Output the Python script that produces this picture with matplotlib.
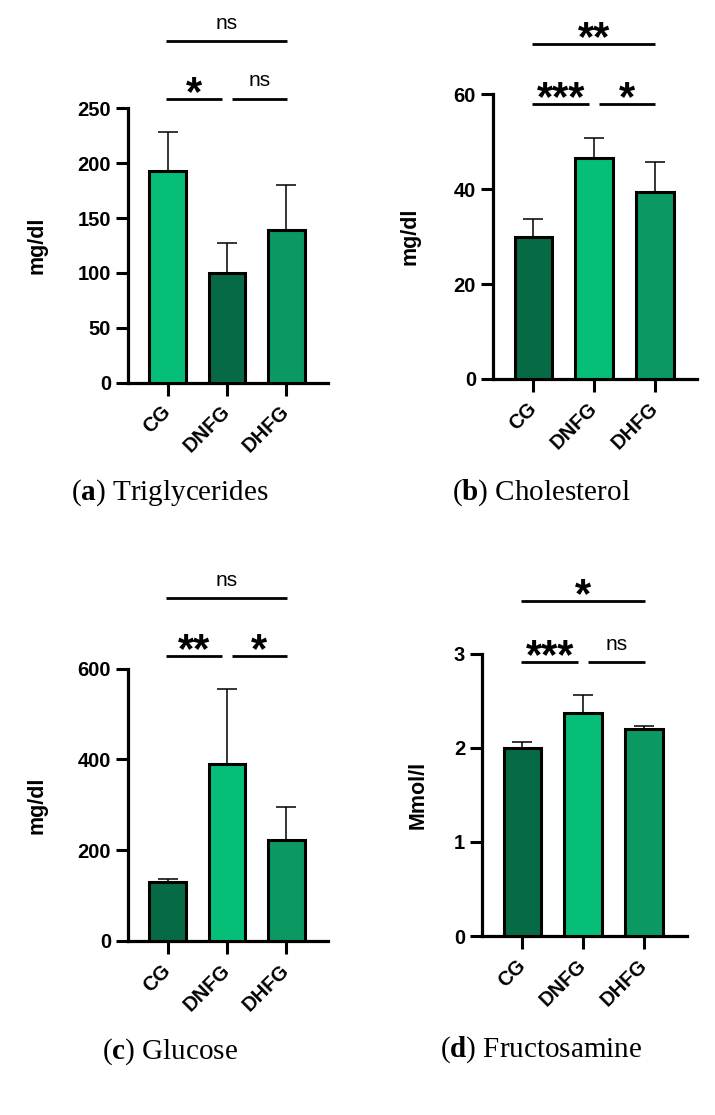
import matplotlib
matplotlib.use("Agg")
import matplotlib.pyplot as plt
import numpy as np

plt.rcParams['font.family'] = ['Liberation Sans', 'DejaVu Sans']
plt.rcParams['mathtext.fontset'] = 'custom'
plt.rcParams['mathtext.rm'] = 'Liberation Serif'
plt.rcParams['mathtext.bf'] = 'Liberation Serif:bold'

categories = ['CG', 'DNFG', 'DHFG']

tg_mean = [193, 100, 139]
tg_sd = [35, 27, 41]
chol_mean = [30.0, 46.6, 39.5]
chol_sd = [3.8, 4.2, 6.3]
glu_mean = [129, 390, 223]
glu_sd = [8, 165, 73]
fru_mean = [2.00, 2.37, 2.20]
fru_sd = [0.06, 0.19, 0.03]

y_labels = ['mg/dl', 'mg/dl', 'mg/dl', 'Mmol/l']
captions = ['a', 'b', 'c', 'd']
caption_names = ['Triglycerides', 'Cholesterol', 'Glucose', 'Fructosamine']
y_ticks = [[0, 50, 100, 150, 200, 250], [0, 20, 40, 60], [0, 200, 400, 600], [0, 1, 2, 3]]

# significance annotations: (left comparison, right comparison, overall)
sig_labels = [['*', 'ns', 'ns'], ['***', '*', '**'], ['**', '*', 'ns'], ['***', 'ns', '*']]
sig_levels = [[258.6, 311], [57.9, 70.7], [628, 755], [2.91, 3.56]]

BRIGHT = '#05BE78'
DARK = '#066B44'
MID = '#0C9862'
panel_colors = [[BRIGHT, DARK, MID], [DARK, BRIGHT, MID], [DARK, BRIGHT, MID], [DARK, BRIGHT, MID]]

means = [tg_mean, chol_mean, glu_mean, fru_mean]
sds = [tg_sd, chol_sd, glu_sd, fru_sd]

W, H = 715, 1115
fig = plt.figure(figsize=(W / 100, H / 100), dpi=100)

# axes rectangles in pixels: left, right, top(ymax), bottom(y0)
rects = [(127.7, 328.0, 108.3, 382.7),
         (492.7, 697.3, 94.3, 379.0),
         (127.7, 328.0, 668.7, 941.0),
         (481.7, 686.7, 653.7, 936.0)]
ylabel_x = [-0.454, -0.404, -0.454, -0.309]
caption_pos = [(170, 493), (541, 492.5), (170, 1051.5), (541, 1050)]

for i in range(4):
    l, r, t, b = rects[i]
    ax = fig.add_axes([l / W, 1 - b / H, (r - l) / W, (b - t) / H])
    x = np.arange(3)
    ax.bar(x, means[i], width=0.62, color=panel_colors[i], edgecolor='black',
           linewidth=2.2, zorder=3)
    ax.errorbar(x, means[i], yerr=[np.zeros(3), sds[i]], fmt='none', ecolor='black',
                elinewidth=1.1, capsize=7.5, capthick=1.1, zorder=2)
    yt = y_ticks[i]
    ax.set_ylim(0, yt[-1])
    ax.set_xlim(-0.67, 2.7)
    ax.set_yticks(yt)
    ax.set_xticks(x)
    ax.set_xticklabels(categories, rotation=45, ha='right', va='center',
                       rotation_mode='anchor', fontsize=14.5, fontweight='bold')
    for lab in ax.get_yticklabels():
        lab.set_fontsize(14.5)
        lab.set_fontweight('bold')
    ax.tick_params(axis='y', length=9, width=2.2, pad=3)
    ax.tick_params(axis='x', length=9, width=2.2, pad=10)
    for s in ['top', 'right']:
        ax.spines[s].set_visible(False)
    for s in ['left', 'bottom']:
        ax.spines[s].set_linewidth(2.3)
    ax.set_ylabel(y_labels[i], fontsize=15.5, fontweight='bold')
    ax.yaxis.label.set_va('center')
    ax.yaxis.set_label_coords(ylabel_x[i], 0.5)

    lo, hi = sig_levels[i]
    segs = [(-0.02, 0.92, lo), (1.08, 2.01, lo), (-0.02, 2.01, hi)]
    for (x0, x1, yy), lab in zip(segs, sig_labels[i]):
        ax.plot([x0, x1], [yy, yy], color='black', lw=2.0, clip_on=False,
                solid_capstyle='butt')
        xc = (x0 + x1) / 2
        if lab == 'ns':
            ax.annotate(lab, (xc, yy), xytext=(0, 9), textcoords='offset points',
                        ha='center', va='baseline', fontsize=15, annotation_clip=False)
        else:
            ax.annotate(lab, (xc, yy), xytext=(0, -4.5), textcoords='offset points',
                        ha='center', va='baseline', fontsize=30, fontweight='bold',
                        annotation_clip=False)

    cx, cy = caption_pos[i]
    fig.text(cx / W, 1 - cy / H, r'($\mathbf{%s}$) %s' % (captions[i], caption_names[i]),
             ha='center', va='center', fontsize=21, family='Liberation Serif')

fig.savefig('out.png', dpi=100, facecolor='white')
